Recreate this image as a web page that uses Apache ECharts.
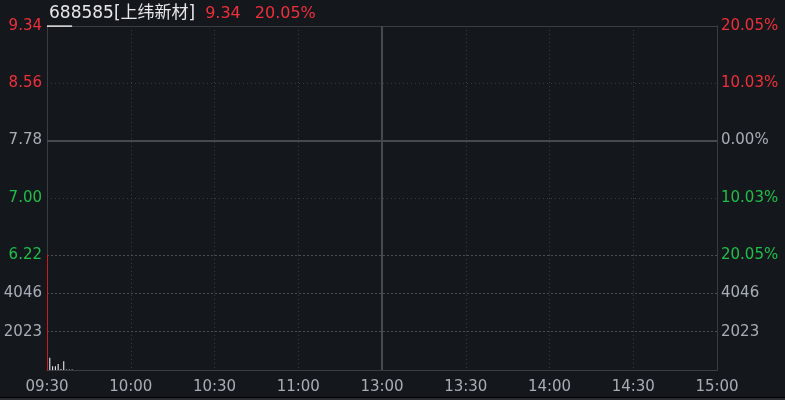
<!DOCTYPE html>
<html>
<head>
<meta charset="utf-8">
<script src="https://cdn.jsdelivr.net/npm/echarts@6/dist/echarts.min.js"></script>
<style>
    html, body {margin: 0; padding: 0; background: #14171c;}
    #chart {width: 785px; height: 400px;}
</style>
</head>
<body>
<div id="chart"></div>
<script>
// 分时数据 (minutes from 09:30)
var timeLabels = ['09:30', '10:00', '10:30', '11:00', '13:00', '13:30', '14:00', '14:30', '15:00'];
var priceMinutes = [0, 1, 2, 3, 4, 5, 6, 7, 8, 9];
var priceValues = [9.34, 9.34, 9.34, 9.34, 9.34, 9.34, 9.34, 9.34, 9.34, 9.34];
var volMinutes = [1, 2, 3, 4, 5, 6, 7, 8, 9];
var volValues = [640, 200, 200, 320, 50, 460, 30, 30, 30];
var priceTicks = [6.22, 7.00, 7.78, 8.56, 9.34];
var pctTicks = ['20.05%', '10.03%', '0.00%', '10.03%', '20.05%'];
var volTicks = [2023, 4046];
var preClose = 7.78;

var RED = '#f0303a';
var GREEN = '#1fbf4a';
var GREY = '#a8aeb6';
var LINE = '#3a3d42';
var FONT = '"DejaVu Sans", "Noto Sans CJK SC"';

function tickColor(v) {
    if (Math.abs(v - preClose) < 0.001) return GREY;
    return v > preClose ? RED : GREEN;
}

function pctLabel(v) {
    // 找最近的刻度
    var best = 0;
    for (var i = 0; i < priceTicks.length; i++) {
        if (Math.abs(priceTicks[i] - v) < Math.abs(priceTicks[best] - v)) best = i;
    }
    return pctTicks[best];
}

var myChart = echarts.init(document.getElementById('chart'));

var dotted = {color: LINE, type: [1, 3], width: 1};
var solid = {color: '#46494e', type: 'solid', width: 2};
var labelPad = [4, 0, 0, 0];

myChart.setOption({
    backgroundColor: '#14171c',
    animation: false,
    textStyle: {fontFamily: FONT},
    title: {
        left: 44,
        top: 0,
        text: '{n|688585[上纬新材]}{p|9.34}{c|20.05%}',
        textStyle: {
            rich: {
                n: {color: '#e6e8ea', fontSize: 17, fontWeight: 'normal', fontFamily: FONT, padding: [0, 10, 0, 0]},
                p: {color: RED, fontSize: 16, fontWeight: 'normal', fontFamily: FONT, padding: [0, 14, 0, 0]},
                c: {color: RED, fontSize: 16, fontWeight: 'normal', fontFamily: FONT}
            }
        }
    },
    grid: [
        {left: 47, right: 68, top: 26, height: 229},
        {left: 47, right: 68, top: 255, height: 115}
    ],
    xAxis: [
        {
            type: 'value', gridIndex: 0, min: 0, max: 240, interval: 30, position: 'top',
            axisLine: {show: true, lineStyle: {color: LINE}}, axisTick: {show: false}, axisLabel: {show: false},
            splitLine: {show: true, showMinLine: false, showMaxLine: false, lineStyle: dotted}
        },
        {
            type: 'value', gridIndex: 1, min: 0, max: 240, interval: 30,
            axisLine: {show: true, lineStyle: {color: LINE}}, axisTick: {show: false},
            axisLabel: {
                color: GREY, fontSize: 15, margin: 10, fontFamily: FONT,
                formatter: function(v) { return timeLabels[Math.round(v / 30)]; }
            },
            splitLine: {show: true, showMinLine: false, showMaxLine: false, lineStyle: dotted}
        }
    ],
    yAxis: [
        {
            type: 'value', gridIndex: 0, min: 6.22, max: 9.34, position: 'left',
            axisLine: {show: true, lineStyle: {color: LINE}}, axisTick: {show: false},
            splitLine: {show: false},
            axisLabel: {
                customValues: priceTicks, fontSize: 15, margin: 5, fontFamily: FONT, padding: labelPad,
                color: function(v) { return tickColor(v); },
                formatter: function(v) { return v.toFixed(2); }
            }
        },
        {
            type: 'value', gridIndex: 0, min: 6.22, max: 9.34, position: 'right',
            axisLine: {show: true, lineStyle: {color: LINE}}, axisTick: {show: false},
            splitLine: {show: false},
            axisLabel: {
                show: true, customValues: priceTicks, fontSize: 15, margin: 4, fontFamily: FONT, padding: labelPad,
                color: function(v) { return tickColor(v); },
                formatter: function(v) { return pctLabel(v); }
            }
        },
        {
            type: 'value', gridIndex: 1, min: 0, max: 6069, interval: 2023, position: 'left',
            axisLine: {show: true, lineStyle: {color: '#c81e1e'}}, axisTick: {show: false},
            splitLine: {show: true, showMinLine: false, lineStyle: {color: '#4a4d52', type: [2, 2], width: 1}},
            axisLabel: {
                customValues: volTicks, color: GREY, fontSize: 15, margin: 5, fontFamily: FONT, padding: labelPad,
                formatter: function(v) { return String(v); }
            },
            z: 10
        },
        {
            type: 'value', gridIndex: 1, min: 0, max: 6069, interval: 2023, position: 'right',
            axisLine: {show: true, lineStyle: {color: LINE}}, axisTick: {show: false},
            splitLine: {show: false},
            axisLabel: {
                customValues: volTicks, color: GREY, fontSize: 15, margin: 4, fontFamily: FONT, padding: labelPad,
                formatter: function(v) { return String(v); }
            }
        }
    ],
    series: [
        {
            name: '价格',
            type: 'line',
            xAxisIndex: 0,
            yAxisIndex: 0,
            symbol: 'none',
            data: priceMinutes.map(function(m, i) { return [m, priceValues[i]]; }),
            lineStyle: {color: '#ffffff', width: 1.5},
            markLine: {
                silent: true, symbol: 'none', label: {show: false},
                data: [
                    {yAxis: priceTicks[1], lineStyle: dotted},
                    {yAxis: priceTicks[3], lineStyle: dotted},
                    {yAxis: preClose, lineStyle: solid},
                    {xAxis: 120, lineStyle: solid}
                ]
            },
            z: 5
        },
        {
            name: '成交量',
            type: 'bar',
            xAxisIndex: 1,
            yAxisIndex: 2,
            barWidth: 1,
            data: volMinutes.map(function(m, i) { return [m, volValues[i]]; }),
            itemStyle: {color: '#ffffff'},
            markLine: {
                silent: true, symbol: 'none', label: {show: false},
                data: [{xAxis: 120, lineStyle: solid}]
            }
        }
    ],
    graphic: [
        {type: 'rect', left: 0, top: 397, shape: {width: 785, height: 1}, style: {fill: '#000000'}},
        {type: 'rect', left: 0, top: 398, shape: {width: 785, height: 2}, style: {fill: '#2a2d31'}}
    ]
});
</script>
</body>
</html>
